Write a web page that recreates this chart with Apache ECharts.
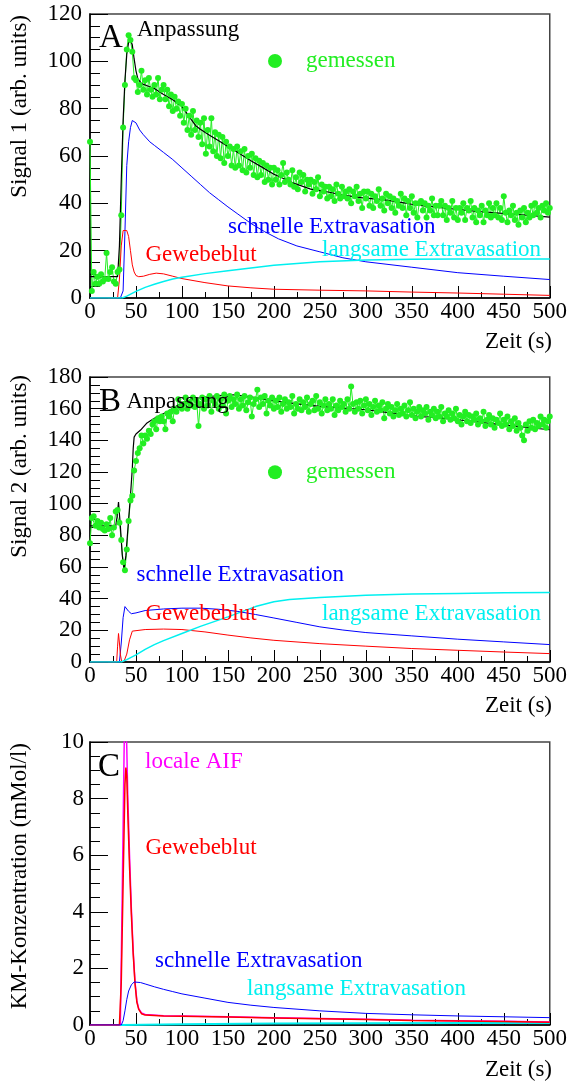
<!DOCTYPE html>
<html><head><meta charset="utf-8">
<script src="https://cdn.jsdelivr.net/npm/echarts@6/dist/echarts.min.js"></script>
<style>html,body{margin:0;padding:0;background:#fff}#c{width:570px;height:1082px}</style>
</head><body><div id="c"></div>
<script>
// ---------- data ----------
const zeitMess = [
0,2,4,6,8,10,12,14,16,18, 20,22,24,26,28,30,32,34,36,38,
40,42,44,46,48,50,52,54,56,58, 60,62,64,66,68,70,72,74,76,78,
80,82,84,86,88,90,92,94,96,98, 100,102,104,106,108,110,112,114,116,118,
120,122,124,126,128,130,132,134,136,138, 140,142,144,146,148,150,152,154,156,158,
160,162,164,166,168,170,172,174,176,178, 180,182,184,186,188,190,192,194,196,198,
200,202,204,206,208,210,212,214,216,218, 220,222,224,226,228,230,232,234,236,238,
240,242,244,246,248,250,252,254,256,258, 260,262,264,266,268,270,272,274,276,278,
280,282,284,286,288,290,292,294,296,298, 300,302,304,306,308,310,312,314,316,318,
320,322,324,326,328,330,332,334,336,338, 340,342,344,346,348,350,352,354,356,358,
360,362,364,366,368,370,372,374,376,378, 380,382,384,386,388,390,392,394,396,398,
400,402,404,406,408,410,412,414,416,418, 420,422,424,426,428,430,432,434,436,438,
440,442,444,446,448,450,452,454,456,458, 460,462,464,466,468,470,472,474,476,478,
480,482,484,486,488,490,492,494,496,498, 500];

const signal1Gemessen = [
66,3,11,6,9,6,10,7,8,19, 8,11,13,7,6,11,12,35,72,90,
105,111,109,104,93,92,87,90,96,88, 92,86,93,88,85,90,86,93,84,88,
90,84,88,81,86,79,85,80,83,77, 82,74,80,71,77,69,79,71,75,68,
74,65,76,61,71,64,76,62,70,60, 69,59,68,57,66,60,64,56,63,55,
64,56,62,54,63,53,60,55,61,52, 59,51,58,52,57,49,56,50,55,48,
55,50,54,48,52,57,49,53,50,48, 54,47,51,46,53,49,52,45,50,48,
50,44,49,46,51,43,48,45,47,42, 47,43,46,41,48,44,42,47,43,45,
42,46,40,45,43,47,41,44,38,45, 42,45,39,44,38,43,41,46,39,42,
37,44,40,43,38,42,36,41,39,44, 38,42,35,41,38,43,36,40,34,40,
41,37,40,34,39,37,42,35,39,35, 39,41,35,39,33,38,36,41,34,38,
33,38,36,40,33,38,37,41,34,38, 32,37,35,39,32,37,35,40,34,38,
35,40,34,38,33,43,36,32,37,35, 39,33,36,31,37,34,38,32,36,34,
39,35,40,36,38,34,39,37,40,36, 38];

const signal2Gemessen = [
75,91,92,86,89,85,88,84,83,87, 84,91,80,85,95,96,88,77,63,58,
71,89,102,105,121,127,132,135,143,138, 143,141,146,144,150,152,147,154,152,155,
152,147,157,155,158,152,160,158,166,161, 160,163,167,160,164,162,167,161,165,149,
163,167,160,166,162,168,158,165,163,168, 160,166,162,169,157,165,168,161,166,163,
169,160,166,162,168,159,164,167,155,163, 166,172,161,167,163,168,157,165,162,167,
160,165,161,167,158,163,166,160,164,161, 168,157,163,160,166,159,164,161,167,158,
163,165,159,168,160,164,157,162,166,159, 163,160,166,156,162,159,165,161,163,158,
166,160,174,163,158,164,160,165,157,162, 166,159,163,156,161,165,158,162,159,164,
154,160,163,157,161,155,159,163,156,160, 157,162,155,159,164,156,160,154,158,161,
155,159,157,161,153,158,156,160,154,158, 155,161,152,157,155,159,153,157,154,160,
152,156,150,155,158,152,156,151,155,153, 157,150,154,152,158,149,153,156,150,154,
148,153,151,157,149,153,150,155,147,152, 149,154,146,151,148,143,140,150,146,152,
148,153,147,151,149,155,150,153,148,152, 155];

// Panel A model curves
const tAnp1 = [0,30,32,34,36,38,40,42,44,46,48,50,52,56,60,70,80,90,100,110,115,120,130,140,150,160,175,187,200,223,240,259,275,295,320,335,350,375,400,425,450,475,500];
const anp1  = [9,9,22,50,75,92,103,108,109,107,101,96,92.7,90.6,90,88.5,86,83.8,81,75.5,72.8,71.3,68.8,66.4,64,61.7,58,55.3,52.3,48.3,46,44.8,43.5,42.4,41.5,40.6,39.6,38.5,37.4,36.5,35.7,35,34.2];
const tSchnell1 = [0,33,36,38,40,42,44,46,48,50,54,58,65,70,80,90,100,110,120,130,140,150,160,175,190,205,225,250,275,300,350,400,450,500];
const schnell1  = [0,0,3,28,56,66,72,75,75.5,74,71,69,66,64.5,61.5,58.5,55,51.5,48,44.5,41.5,38.5,35.7,31.5,28,25,22,19.5,17,15.3,13,10.7,9.2,7.8];
const tBlut1 = [0,30,32,34,36,40,42,44,46,48,50,53,58,65,72,80,90,100,125,150,175,200,250,300,350,400,450,500];
const blut1  = [0,0,8,22,28.5,28.5,26,20,14,11,9.5,9,9.2,10,10.5,10.2,9.2,8.2,6.5,5.1,4.3,3.7,3.3,3.0,2.5,2.1,1.6,1.1];
const tLang1 = [0,35,40,50,60,70,80,90,100,125,150,175,200,225,250,300,350,400,500];
const lang1  = [0,0,0.8,2.8,4.5,5.8,7,8,8.8,10.3,11.5,12.7,13.8,14.6,15.3,16.1,16.4,16.5,16.5];

// Panel B model curves
const tAnp2 = [0,28,29.5,31,33,35,37,39,40,42,44,46,47,48,50,55,62,70,84,95,106,120,140,156,175,200,225,250,275,300,325,350,375,400,425,450,475,500];
const anp2  = [86,86,92,101,86,68,58.5,67,75,90,105,122,135,142,144,146.5,151,154,158,162,165,167,168.3,168.8,167.5,165,163,161.4,160.3,159.3,157.5,155.5,154.3,153,151.4,149.8,148.2,146.7];
const tSchnell2 = [0,32,34,36,38,40,42,45,50,60,80,100,120,140,160,180,200,225,250,275,300,350,400,450,500];
const schnell2  = [0,0,12,28,35,34,32,30.5,31,32.5,33.5,34,34,33.3,32,30,27.8,25,22.2,20.2,18.6,16.5,14.4,12.7,11];
const tBlut2 = [0,29,30,31,32,33,34.5,37,40,43,46,48,60,80,100,125,150,175,200,250,300,350,400,450,500];
const blut2  = [0,0,10,18,12,5,0,0.5,5,14,19.5,20.5,20.5,20.8,20.5,19,17,15.2,13.7,11.6,10,8.5,7.4,6.3,5.3];
const tLang2 = [0,34,40,50,60,70,80,100,120,150,180,200,217,250,300,350,400,450,500];
const lang2  = [0,0,1.5,4.5,8,11,13.5,18,22.5,28.5,35,38,39.5,40.7,42.2,42.9,43.3,43.7,43.9];

// Panel C concentrations
const tAif = [0,33,35,37,38,39,40,41,43,45,47,49,51,53,56,60,80,100,150,200,250,300,350,400,450,500];
const aif  = [0,0,4.5,9.5,11.5,11,9.8,8.2,6,4.1,2.6,1.5,0.85,0.58,0.43,0.37,0.33,0.32,0.29,0.26,0.23,0.2,0.17,0.15,0.13,0.11];
const tBlut3 = [0,32,34,36,38,39,40,41,43,45,47,49,51,53,56,60,80,100,150,200,250,300,350,400,450,500];
const blut3  = [0,0,1.5,5,8.5,9.1,8.8,7.6,5.6,3.9,2.5,1.45,0.8,0.55,0.4,0.35,0.32,0.31,0.28,0.25,0.22,0.19,0.16,0.14,0.12,0.1];
const tSchnell3 = [0,34,36,38,40,42,45,48,50,55,60,70,80,90,100,125,150,175,200,250,300,350,400,450,500];
const schnell3  = [0,0,0.15,0.5,0.9,1.2,1.42,1.52,1.55,1.5,1.45,1.35,1.26,1.18,1.1,0.95,0.8,0.7,0.62,0.5,0.41,0.36,0.32,0.29,0.26];
const tLang3 = [0,35,100,200,300,400,500];
const lang3  = [0,0,0.03,0.05,0.06,0.07,0.07];

const xTicks = [0,50,100,150,200,250,300,350,400,450,500];

// ---------- chart ----------
const FONT = 'Liberation Serif';
const GREEN = '#22ee22', BLUE = '#0000ff', RED = '#ff0000', CYAN = '#00f0f0', MAG = '#ff00ff', BLACK = '#000000';
const pairs = (t, v) => t.map((x, i) => [x, v[i]]);

const grids = [
  {left: 90, right: 17, top: 14, height: 284},
  {left: 90, right: 17, top: 377, height: 285},
  {left: 90, right: 17, top: 742, height: 283}
].map(g => Object.assign(g, {show: true, borderColor: '#444', borderWidth: 1.5, containLabel: false}));

function makeX(gi) {
  return {
    type: 'value', gridIndex: gi, min: xTicks[0], max: xTicks[xTicks.length - 1], interval: 50,
    axisLine: {show: true, lineStyle: {color: BLACK, width: 1.5}},
    axisTick: {show: true, inside: true, length: 12, lineStyle: {color: BLACK}},
    minorTick: {show: true, splitNumber: 2, length: 6, lineStyle: {color: BLACK}},
    splitLine: {show: false},
    axisLabel: {color: BLACK, fontFamily: FONT, fontSize: 23, margin: 2, showMinLabel: true, showMaxLabel: true}
  };
}
function makeY(gi, max, interval, margin) {
  return {
    type: 'value', gridIndex: gi, min: 0, max: max, interval: interval,
    axisLine: {show: true, lineStyle: {color: BLACK, width: 1.5}},
    axisTick: {show: true, inside: true, length: 18, lineStyle: {color: BLACK}},
    minorTick: {show: true, splitNumber: 4, length: 10, lineStyle: {color: BLACK}},
    splitLine: {show: false},
    axisLabel: {color: BLACK, fontFamily: FONT, fontSize: 23, margin: margin}
  };
}
function curve(name, gi, t, v, color, width) {
  return {
    name: name, type: 'line', xAxisIndex: gi, yAxisIndex: gi, data: pairs(t, v),
    showSymbol: false, symbol: 'none', smooth: false, clip: true,
    lineStyle: {color: color, width: width || 1}, itemStyle: {color: color}
  };
}
function measured(name, gi, t, v) {
  return {
    name: name, type: 'line', xAxisIndex: gi, yAxisIndex: gi, data: pairs(t, v),
    symbol: 'circle', symbolSize: 6, showSymbol: true, showAllSymbol: true, clip: true,
    lineStyle: {color: GREEN, width: 1}, itemStyle: {color: GREEN}
  };
}

function txt(x, y, text, color, size, align, rot) {
  return {
    type: 'text', x: x, y: y, rotation: rot || 0, z: 100,
    style: {text: text, fill: color, fontFamily: FONT, fontSize: size || 23,
            align: align || 'left', verticalAlign: 'middle'}
  };
}
function dot(cx, cy) {
  return {type: 'circle', z: 100, shape: {cx: cx, cy: cy, r: 7}, style: {fill: GREEN}};
}

const graphic = [
  // Panel A
  txt(99, 38, 'A', BLACK, 33),
  txt(137, 29.5, 'Anpassung', BLACK),
  dot(275, 61), txt(306, 60.5, 'gemessen', GREEN),
  txt(228, 226.5, 'schnelle Extravasation', BLUE),
  txt(322, 250.2, 'langsame Extravasation', CYAN),
  txt(145.5, 255.2, 'Gewebeblut', RED),
  txt(20, 15, 'Signal 1 (arb. units)', BLACK, 23, 'right', Math.PI / 2),
  txt(552, 342.2, 'Zeit (s)', BLACK, 23, 'right'),
  // Panel B
  txt(99, 402, 'B', BLACK, 33),
  txt(126.5, 402.2, 'Anpassung', BLACK),
  dot(275, 472.3), txt(306, 472.2, 'gemessen', GREEN),
  txt(136.5, 574.9, 'schnelle Extravasation', BLUE),
  txt(145.5, 613.9, 'Gewebeblut', RED),
  txt(322, 613.9, 'langsame Extravasation', CYAN),
  txt(20, 375, 'Signal 2 (arb. units)', BLACK, 23, 'right', Math.PI / 2),
  txt(552, 705.5, 'Zeit (s)', BLACK, 23, 'right'),
  // Panel C
  txt(98, 767, 'C', BLACK, 33),
  txt(145, 762.2, 'locale AIF', MAG),
  txt(145.5, 848.2, 'Gewebeblut', RED),
  txt(155, 961.2, 'schnelle Extravasation', BLUE),
  txt(247, 988.9, 'langsame Extravasation', CYAN),
  txt(20, 743, 'KM-Konzentration (mMol/l)', BLACK, 23, 'right', Math.PI / 2),
  txt(552, 1069.5, 'Zeit (s)', BLACK, 23, 'right')
];

const option = {
  animation: false,
  backgroundColor: '#ffffff',
  grid: grids,
  xAxis: [makeX(0), makeX(1), makeX(2)],
  yAxis: [makeY(0, 120, 20, 8), makeY(1, 180, 20, 8), makeY(2, 10, 2, 6)],
  graphic: graphic,
  series: [
    measured('gemessen (Signal 1)', 0, zeitMess, signal1Gemessen),
    curve('Anpassung (Signal 1)', 0, tAnp1, anp1, BLACK, 1.2),
    curve('schnelle Extravasation (Signal 1)', 0, tSchnell1, schnell1, BLUE, 1),
    curve('Gewebeblut (Signal 1)', 0, tBlut1, blut1, RED, 1),
    curve('langsame Extravasation (Signal 1)', 0, tLang1, lang1, CYAN, 1.5),

    measured('gemessen (Signal 2)', 1, zeitMess, signal2Gemessen),
    curve('Anpassung (Signal 2)', 1, tAnp2, anp2, BLACK, 1.2),
    curve('schnelle Extravasation (Signal 2)', 1, tSchnell2, schnell2, BLUE, 1),
    curve('Gewebeblut (Signal 2)', 1, tBlut2, blut2, RED, 1),
    curve('langsame Extravasation (Signal 2)', 1, tLang2, lang2, CYAN, 1.5),

    curve('langsame Extravasation (KM)', 2, tLang3, lang3, CYAN, 2),
    curve('locale AIF', 2, tAif, aif, MAG, 1.5),
    curve('Gewebeblut (KM)', 2, tBlut3, blut3, RED, 1.5),
    curve('schnelle Extravasation (KM)', 2, tSchnell3, schnell3, BLUE, 1)
  ]
};

const chart = echarts.init(document.getElementById('c'), null, {renderer: 'canvas'});
chart.setOption(option);
</script>
</body></html>
